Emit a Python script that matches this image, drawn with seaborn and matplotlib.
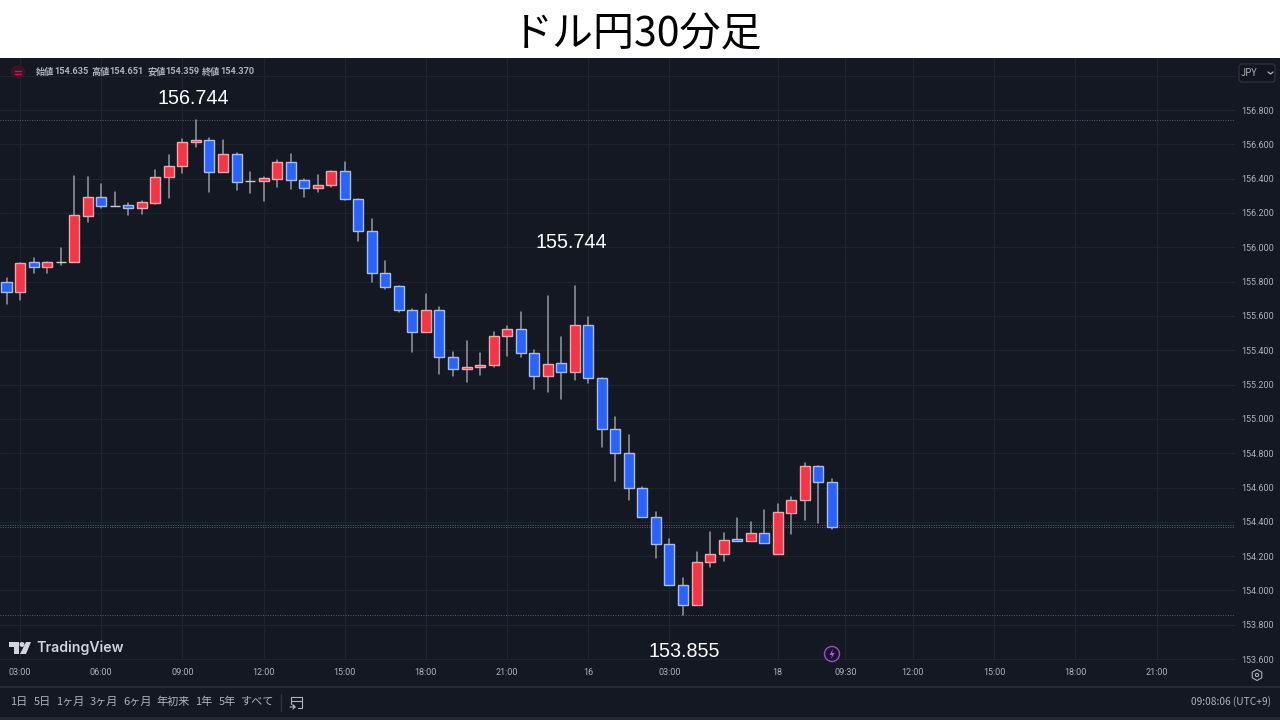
import matplotlib
matplotlib.use("Agg")
import matplotlib.pyplot as plt
from matplotlib.patches import Rectangle, Circle, RegularPolygon, Polygon, FancyBboxPatch
import numpy as np
import pandas as pd
import seaborn as sns

opens = [155.798,155.739,155.914,155.885,155.914,155.914,156.182,156.293,156.241,156.246,156.229,156.258,
         156.410,156.474,156.614,156.625,156.439,156.544,156.386,156.386,156.398,156.497,156.392,156.345,
         156.363,156.444,156.281,156.095,155.850,155.774,155.634,155.506,155.634,155.360,155.291,155.302,
         155.314,155.483,155.524,155.384,155.250,155.326,155.273,155.547,155.238,154.941,154.801,154.597,
         154.428,154.271,154.032,153.915,154.166,154.212,154.300,154.288,154.335,154.212,154.451,154.527,
         154.725,154.635]
highs = [155.821,155.908,155.937,155.914,155.996,156.415,156.410,156.369,156.322,156.258,156.270,156.450,
         156.538,156.631,156.744,156.637,156.625,156.549,156.439,156.410,156.509,156.544,156.398,156.421,
         156.444,156.497,156.281,156.165,155.920,155.774,155.640,155.728,155.652,155.390,155.454,155.384,
         155.506,155.541,155.623,155.401,155.716,155.477,155.774,155.594,155.238,155.011,154.906,154.603,
         154.457,154.300,154.073,154.224,154.341,154.335,154.422,154.399,154.469,154.504,154.545,154.743,
         154.725,154.651]
lows = [155.669,155.693,155.850,155.850,155.897,155.914,156.147,156.229,156.241,156.188,156.194,156.252,
        156.287,156.433,156.584,156.322,156.439,156.334,156.316,156.270,156.351,156.340,156.293,156.322,
        156.351,156.275,156.037,155.798,155.757,155.623,155.390,155.506,155.261,155.250,155.215,155.256,
        155.302,155.366,155.360,155.174,155.157,155.116,155.226,155.209,154.836,154.638,154.527,154.428,
        154.189,154.032,153.855,153.915,154.137,154.172,154.288,154.288,154.277,154.212,154.329,154.411,
        154.393,154.359]
closes = [155.739,155.908,155.885,155.914,155.914,156.188,156.293,156.241,156.241,156.229,156.264,156.410,
          156.474,156.614,156.625,156.439,156.544,156.380,156.386,156.404,156.497,156.392,156.345,156.363,
          156.444,156.281,156.095,155.850,155.768,155.634,155.506,155.634,155.360,155.291,155.302,155.314,
          155.483,155.524,155.384,155.250,155.320,155.273,155.547,155.238,154.941,154.801,154.597,154.428,
          154.271,154.032,153.915,154.166,154.212,154.294,154.288,154.335,154.277,154.457,154.527,154.725,
          154.632,154.370]
time_ticks = [1, 7, 13, 19, 25, 31, 37, 43, 49, 57, 62, 67, 73, 79, 85]
time_labels = ["03:00","06:00","09:00","12:00","15:00","18:00","21:00","16","03:00","18","09:30",
               "12:00","15:00","18:00","21:00"]
price_ticks = [153.6,153.8,154.0,154.2,154.4,154.6,154.8,155.0,155.2,155.4,155.6,155.8,156.0,156.2,156.4,156.6,156.8,157.0]
price_labels = ["153.600","153.800","154.000","154.200","154.400","154.600","154.800","155.000","155.200",
                "155.400","155.600","155.800","156.000","156.200","156.400","156.600","156.800",""]
range_labels = ["1日","5日","1ヶ月","3ヶ月","6ヶ月","年初来","1年","5年","すべて"]
high_level, low_level, last_level, prev_level = 156.744, 153.855, 154.370, 154.382

sns.set_theme(style="dark")
plt.rcParams['font.family'] = ['Noto Sans CJK JP', 'DejaVu Sans']

BG = "#141823"
GRID = "#1f2330"
TXT = "#aeb2bb"
RED, RED_E = "#f23645", "#f3a6ae"
BLUE, BLUE_E = "#2962ff", "#a9bdec"

df = pd.DataFrame(dict(open=opens, high=highs, low=lows, close=closes))
df["i"] = np.arange(len(df))
wicks = df.melt(id_vars="i", value_vars=["low", "high"], value_name="price")

fig = plt.figure(figsize=(12.8, 7.2), dpi=100, facecolor="white")
ax = fig.add_axes([0, 60/720, 1235/1280, 602/720], facecolor=BG)

sns.lineplot(data=wicks, x="i", y="price", units="i", estimator=None, color="#90949d",
             lw=1.15, ax=ax, legend=False, zorder=2)

for r in df.itertuples():
    up, flat = r.close > r.open, r.close == r.open
    fc = "#c9ccd4" if flat else (RED if up else BLUE)
    ec = "#c9ccd4" if flat else (RED_E if up else BLUE_E)
    ax.bar(r.i, abs(r.close - r.open), bottom=min(r.open, r.close), width=0.74,
           color=fc, edgecolor=ec, linewidth=1.0, zorder=3)

ax.set_xlim(-6.5/13.53, (1235-6.5)/13.53)
y2p = lambda y: 156.8 - (y - 110)/171.6
ax.set_ylim(y2p(660), y2p(58))
ax.set_xticks(time_ticks, time_labels)
ax.set_yticks(price_ticks, price_labels)
ax.yaxis.tick_right()
ax.tick_params(axis="y", length=0, pad=4.5, labelsize=6.5, colors=TXT)
ax.tick_params(axis="x", length=0, pad=5.5, labelsize=6.5, colors=TXT)
for t in ax.get_xticklabels() + ax.get_yticklabels():
    t.set_fontfamily("Roboto")
ax.grid(True, color=GRID, lw=0.9)
ax.set_axisbelow(True)
ax.set_xlabel(""); ax.set_ylabel("")
for s in ax.spines.values():
    s.set_visible(False)

ax.axhline(high_level, color="#5c5a70", lw=0.7, ls=(0, (1, 1.5)), zorder=1)
ax.axhline(low_level, color="#5c5a70", lw=0.7, ls=(0, (1, 1.5)), zorder=1)
ax.axhline(prev_level, color="#a8404f", lw=0.7, ls=(0, (1, 1.5)), zorder=1)
ax.axhline(last_level, color="#3f5fc0", lw=0.7, ls=(0, (1, 1.5)), zorder=1)

# window chrome, in pixel coordinates
ch = fig.add_axes([0, 0, 1, 1], zorder=-1, facecolor="none")
ch.set_xlim(0, 1280); ch.set_ylim(720, 0); ch.axis("off")
ch.add_patch(Rectangle((0, 58), 1280, 662, color=BG, lw=0))
ch.add_patch(Rectangle((0, 686), 1280, 2, color="#262a35", lw=0))
ch.add_patch(Rectangle((0, 717), 1280, 3, color="#242833", lw=0))

top = fig.add_axes([0, 0, 1, 1], zorder=5, facecolor="none")
top.set_xlim(0, 1280); top.set_ylim(720, 0); top.axis("off")
top.text(637.5, 35, "ドル円30分足", ha="center", va="center", fontsize=29.5, color="black")

for txt, x, y in [(f"{high_level:.3f}", 193, 99), ("155.744", 571, 242), (f"{low_level:.3f}", 684, 651.5)]:
    top.text(x, y, txt, ha="center", va="center", color="white", fontsize=14.2, family="Liberation Sans")

top.add_patch(Circle((18, 72), 7, color="#3a1528", lw=0))
top.plot([15, 21], [70.5, 70.5], color="#c2185b", lw=1)
top.plot([15, 21], [73.5, 73.5], color="#c2185b", lw=1)
for lab, val, x in [("始値", "154.635", 36), ("高値", "154.651", 91), ("安値", "154.359", 147), ("終値", "154.370", 202)]:
    top.text(x, 72, lab, ha="left", va="center", fontsize=6.6, color=TXT, weight="bold")
    top.text(x + 18.5, 72, val, ha="left", va="center", fontsize=6.6, color=TXT, weight="bold", family="Roboto")

top.add_patch(FancyBboxPatch((1239, 64), 36, 18, boxstyle="round,pad=0,rounding_size=3",
                             fc="#12151e", ec="#2c303b", lw=1))
top.text(1241, 73, "JPY", ha="left", va="center", fontsize=7, color=TXT)
top.plot([1268, 1270.5, 1273], [72, 74, 72], color=TXT, lw=0.9)

# TradingView logo
logo = "#d1d4dc"
top.add_patch(Polygon([(9, 642), (19, 642), (19, 654), (14, 654), (14, 647), (9, 647)], color=logo, lw=0))
top.add_patch(Circle((22, 644.5), 2.5, color=logo, lw=0))
top.add_patch(Polygon([(26, 642), (31, 642), (26, 654), (20, 654)], color=logo, lw=0))
top.text(36, 648, "TradingView", ha="left", va="center", fontsize=10.2, color=logo, family="Inter", weight="semibold")

top.add_patch(Circle((832, 654), 7.5, fc="#1a1430", ec="#9c4fc0", lw=1))
top.add_patch(Polygon([(833, 649), (829.5, 655), (832, 655), (831, 659), (834.5, 653), (832, 653)], color="#b060d0", lw=0))

top.add_patch(RegularPolygon((1257, 675), 6, radius=5.5, fc="none", ec=TXT, lw=0.8))
top.add_patch(Circle((1257, 675), 1.6, fc="none", ec=TXT, lw=0.8))

for lab, x in zip(range_labels, [19, 42, 70.5, 103.5, 137.5, 173, 203.5, 227, 258]):
    top.text(x, 702, lab, ha="center", va="center", fontsize=8, color=TXT)
top.plot([281, 281], [694, 711], color="#2f333e", lw=1)
top.plot([291, 291, 302, 302, 298], [704, 697, 697, 708, 708], color=TXT, lw=0.8)
top.plot([291, 302], [700.5, 700.5], color=TXT, lw=0.8)
top.plot([290, 295, 293, 295, 293], [707, 707, 705, 707, 709], color=TXT, lw=0.8)
top.text(1271, 702, "09:08:06 (UTC+9)", ha="right", va="center", fontsize=7.3, color=TXT)

fig.savefig("out.png", dpi=100)
